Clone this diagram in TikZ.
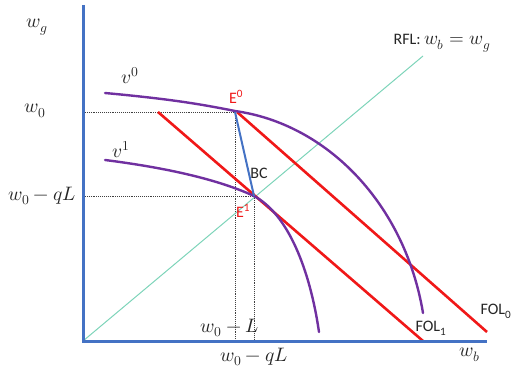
\documentclass[tikz,border=0pt]{standalone}
\usepackage{fontspec}
\usepackage{unicode-math}
\setmathfont{Latin Modern Math}
\setsansfont{Carlito}
\usepackage{tikz}
\usetikzlibrary{arrows.meta, positioning}
\definecolor{axisblue}{RGB}{68,114,196}
\definecolor{folred}{RGB}{240,24,24}
\definecolor{vpurple}{RGB}{112,48,160}
\definecolor{rflgreen}{RGB}{125,212,185}
\tikzstyle{axisline} = [axisblue, line width=3pt]
\tikzstyle{folline} = [folred, line width=2.6pt]
\tikzstyle{vcurve} = [vpurple, line width=2.4pt, line cap=round]
\tikzstyle{guide} = [densely dotted, line width=0.9pt, black!75]
\tikzstyle{mathlbl} = [font=\fontsize{19.5}{22}\selectfont, inner sep=1pt, text=black!85]
\tikzstyle{sflbl} = [font=\sffamily\fontsize{16}{18}\selectfont, inner sep=1pt, text=black!85]

\begin{document}
\begin{tikzpicture}[x=1pt, y=-1pt]
  \useasboundingbox (0,0) rectangle (516,369);

  % key points
  \coordinate (O)      at (83,341);
  \coordinate (ytop)   at (83,5);
  \coordinate (xend)   at (487,341);
  \coordinate (E0)     at (235,112);
  \coordinate (E1)     at (254,196);
  \coordinate (wzero)  at (83,112);
  \coordinate (wqL)    at (83,196);
  \coordinate (rflend) at (423,56);
  \coordinate (fa)     at (158,112);
  \coordinate (fb)     at (423,341);
  \coordinate (fc)     at (237,112);
  \coordinate (fd)     at (487,332);

  % dotted guides
  \draw[guide] (wzero) -- (E0) -- (E0 |- O);
  \draw[guide] (wqL) -- (E1) -- (E1 |- O);

  % RFL
  \draw[rflgreen, line width=1pt] (O) -- (rflend);

  % FOL lines
  \draw[folline] (fa) -- (fb);
  \draw[folline] (fc) -- (fd);

  % indifference curves
  \draw[vcurve] (105,93) .. controls (170,99) and (200,104) .. (235,111)
      .. controls (328,124) and (405,205) .. (423,313);
  \draw[vcurve] (105,160) .. controls (160,167) and (215,178) .. (254,196)
      .. controls (288,214) and (310,270) .. (319,332);

  % budget constraint
  \draw[axisblue, line width=2pt] (E0) -- (E1);

  % axes
  \draw[axisline] (ytop) |- (xend);

  % labels
  \node (wg)    [mathlbl] at (37,27)   {$w_g$};
  \node (wz)    [mathlbl] at (35,111)  {$w_0$};
  \node (wq)    [mathlbl] at (42,196)  {$w_0-qL$};
  \node (vzero) [mathlbl] at (130,76)  {$v^0$};
  \node (vone)  [mathlbl] at (121,150) {$v^1$};
  \node (ezero) [sflbl, text=folred] at (236,97)  {E\textsuperscript{0}};
  \node (bc)    [sflbl] at (259,173) {BC};
  \node (eone)  [sflbl, text=folred] at (243,211) {E\textsuperscript{1}};
  \node (rfl)   [sflbl] at (442,43)  {RFL: {\fontsize{19}{21}\selectfont$w_b = w_g$}};
  \node (folz)  [sflbl] at (496,311) {FOL\textsubscript{0}};
  \node (folo)  [sflbl] at (431,328) {FOL\textsubscript{1}};
  \node (wl)    [mathlbl] at (230,328) {$w_0-L$};
  \node (wbq)   [mathlbl] at (254,357) {$w_0-qL$};
  \node (wb)    [mathlbl] at (470,355) {$w_b$};
\end{tikzpicture}
\end{document}
